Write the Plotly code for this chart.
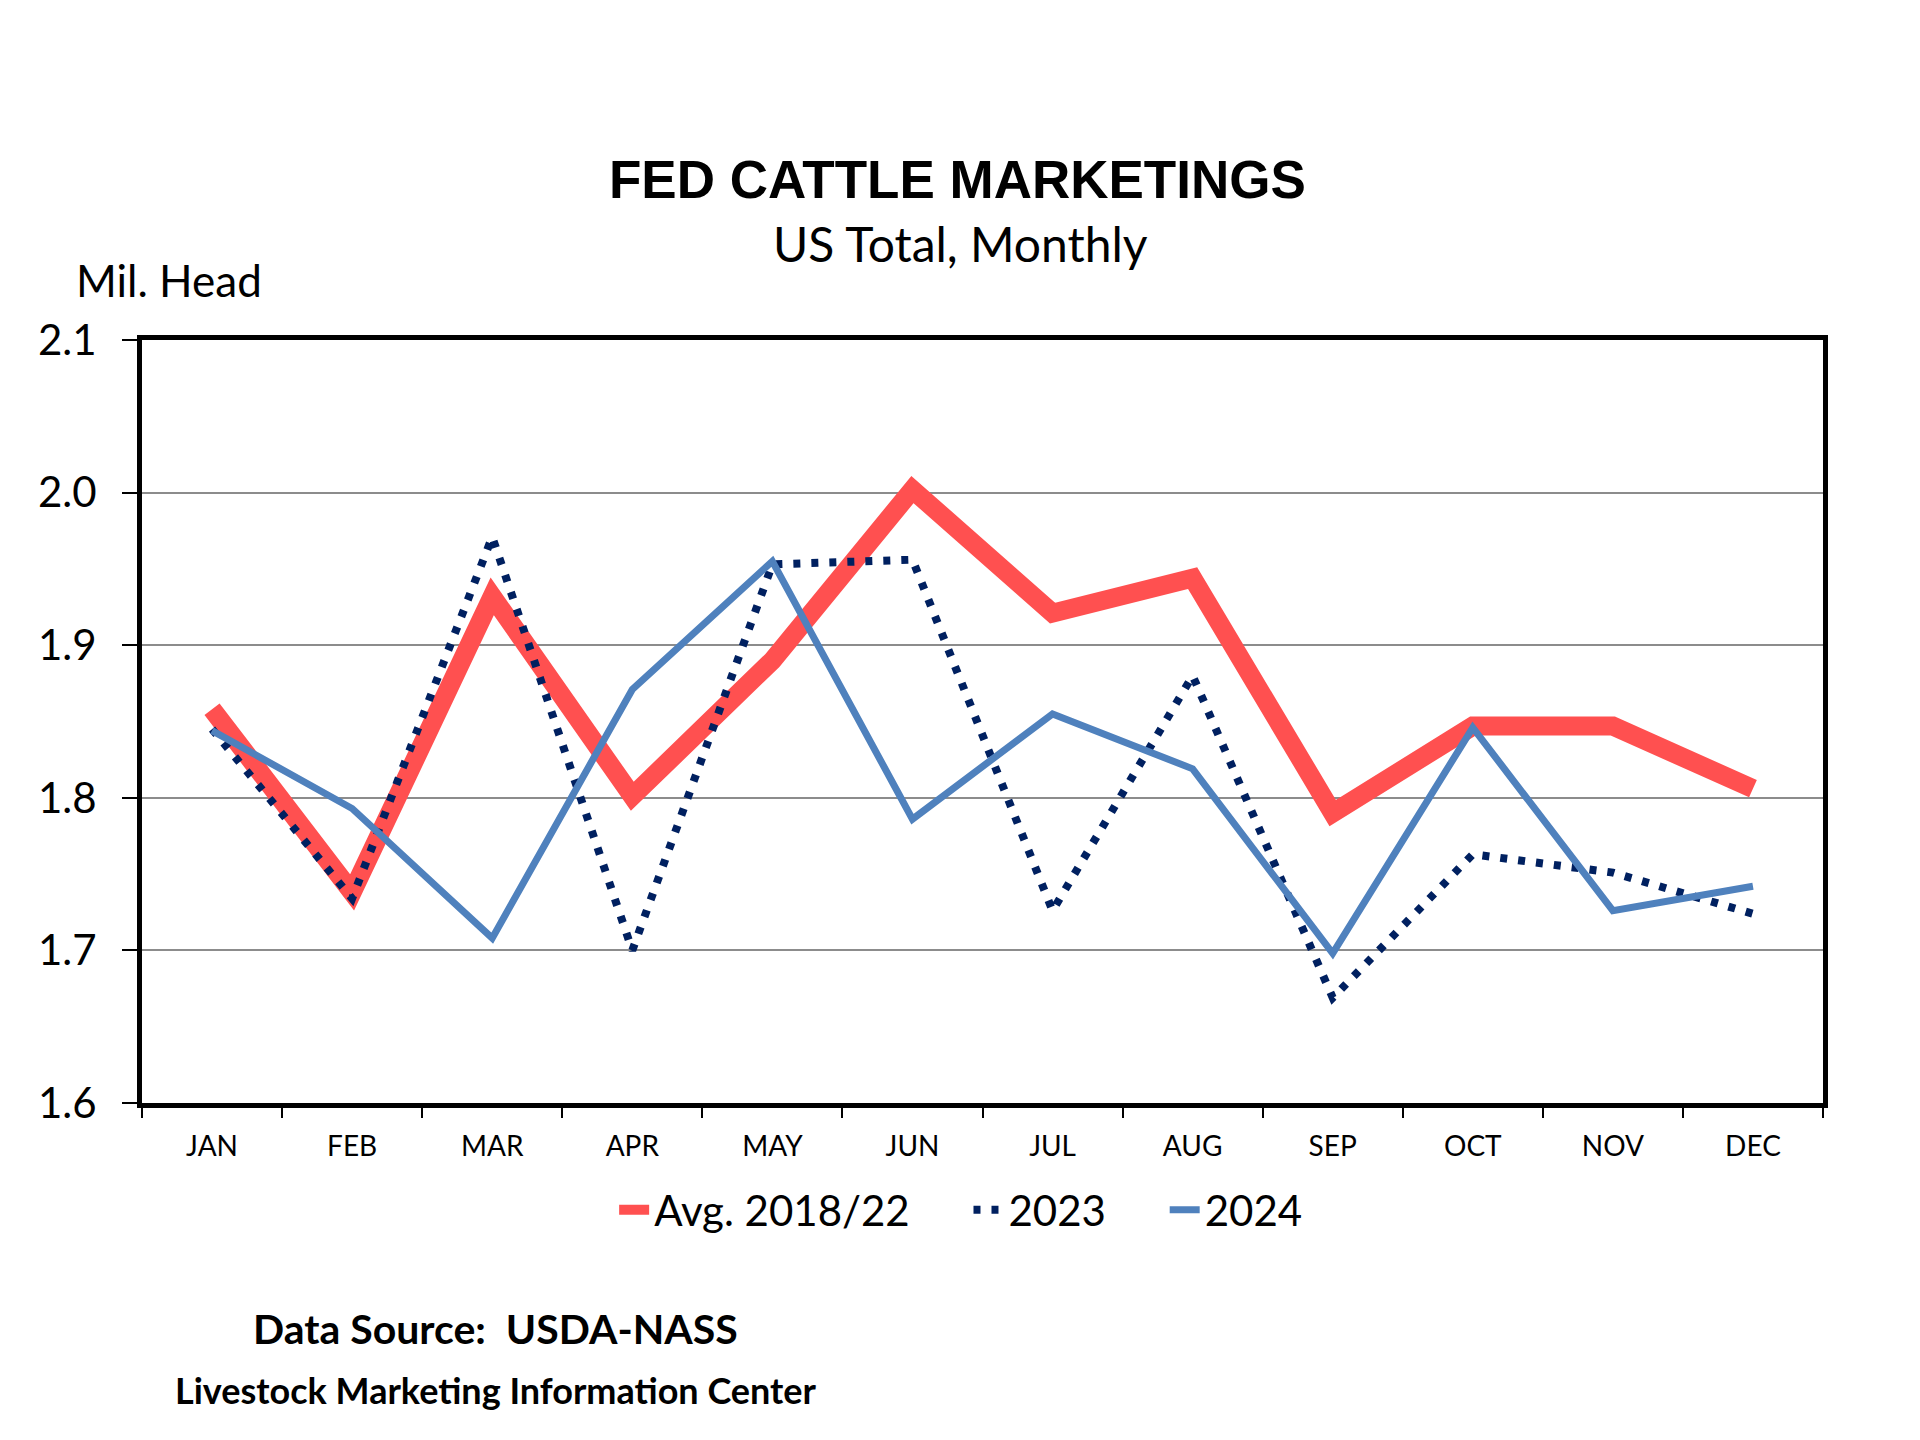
import plotly.graph_objs as go

# months on the x axis
months = ['JAN', 'FEB', 'MAR', 'APR', 'MAY', 'JUN',
          'JUL', 'AUG', 'SEP', 'OCT', 'NOV', 'DEC']

# million head
avg_2018_22 = [1.858, 1.738, 1.932, 1.801, 1.890, 2.002,
               1.921, 1.944, 1.790, 1.847, 1.847, 1.806]
y2023 = [1.845, 1.734, 1.971, 1.700, 1.953, 1.956,
         1.726, 1.880, 1.669, 1.763, 1.751, 1.724]
y2024 = [1.844, 1.793, 1.708, 1.871, 1.955, 1.786,
         1.855, 1.819, 1.698, 1.846, 1.726, 1.742]

y_ticks = [1.6, 1.7, 1.8, 1.9, 2.0, 2.1]

body_font = 'Lato, Open Sans, sans-serif'
pad = '\u00a0' * 5  # spacing between legend entries

fig = go.Figure()

fig.add_trace(go.Scatter(x=months, y=avg_2018_22, name='Avg. 2018/22' + pad,
                         mode='lines',
                         line=dict(color='#FF5050', width=19)))
fig.add_trace(go.Scatter(x=months, y=y2023, name='2023' + pad,
                         mode='lines',
                         line=dict(color='#002060', width=8, dash='7px,11px')))
fig.add_trace(go.Scatter(x=months, y=y2024, name='2024',
                         mode='lines',
                         line=dict(color='#4F81BD', width=7)))

fig.update_layout(
    width=1920, height=1440,
    paper_bgcolor='white', plot_bgcolor='white',
    margin=dict(l=134, r=105, t=332, b=345),
    showlegend=True,
    legend=dict(orientation='h', x=0.487, xanchor='center',
                y=-0.1402, yanchor='middle',
                font=dict(family=body_font, size=42, color='black'),
                itemwidth=30, tracegroupgap=0),
    font=dict(family=body_font, color='black'),
)

fig.update_xaxes(
    type='category', range=[-0.5, 11.5],
    showline=True, linecolor='black', linewidth=5, mirror=True,
    showgrid=False, ticks='outside', tickson='boundaries',
    ticklen=10, tickwidth=2, tickcolor='black', ticklabelstandoff=14,
    tickfont=dict(family=body_font, size=28, color='black'),
)
fig.update_yaxes(
    range=[1.6, 2.1], tickvals=y_ticks, tickformat='.1f',
    showline=True, linecolor='black', linewidth=5, mirror=True,
    showgrid=True, gridcolor='#8C8C8C', gridwidth=1.5,
    ticks='outside', ticklen=15, tickwidth=2, tickcolor='black',
    ticklabelstandoff=17,
    tickfont=dict(family=body_font, size=42, color='black'),
    zeroline=False,
)

# titles and notes
fig.add_annotation(text='<b>FED CATTLE MARKETINGS</b>', xref='paper', yref='paper',
                   x=0.4854, y=1.2097, showarrow=False, xanchor='center', yanchor='middle',
                   font=dict(family='Liberation Sans, Arial', size=53, color='black'))
fig.add_annotation(text='US Total, Monthly', xref='paper', yref='paper',
                   x=0.487, y=1.1265, showarrow=False, xanchor='center', yanchor='middle',
                   font=dict(family=body_font, size=48, color='black'))
fig.add_annotation(text='Mil. Head', xref='paper', yref='paper',
                   x=-0.0405, y=1.0786, showarrow=False, xanchor='left', yanchor='middle',
                   font=dict(family=body_font, size=44, color='black'))
fig.add_annotation(text='<b>Data Source:  USDA-NASS</b>', xref='paper', yref='paper',
                   x=0.21, y=-0.2957, showarrow=False, xanchor='center', yanchor='middle',
                   font=dict(family=body_font, size=41, color='black'))
fig.add_annotation(text='<b>Livestock Marketing Information Center</b>', xref='paper', yref='paper',
                   x=0.2106, y=-0.3759, showarrow=False, xanchor='center', yanchor='middle',
                   font=dict(family=body_font, size=36, color='black'))

fig.write_html("out.html")
